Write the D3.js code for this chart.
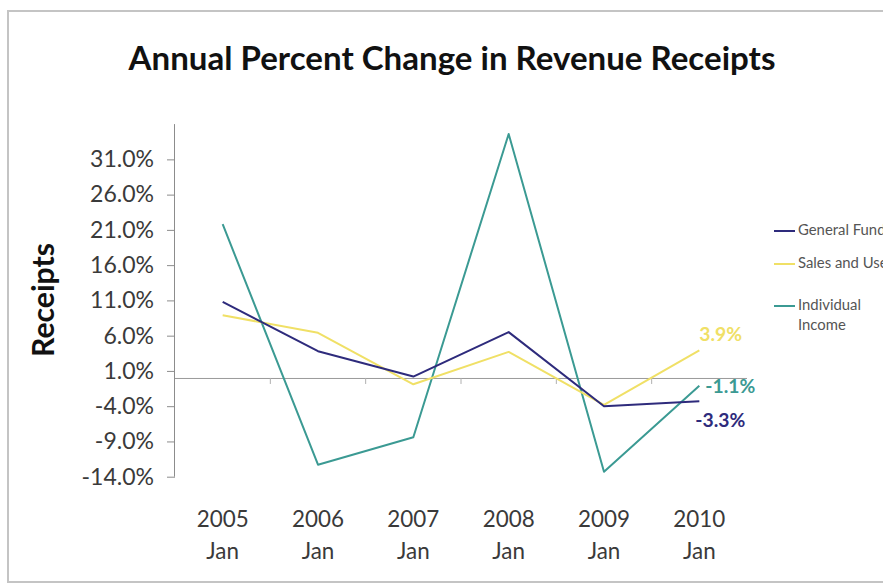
<!DOCTYPE html>
<html><head><meta charset="utf-8">
<script src="https://cdn.jsdelivr.net/npm/d3@7"></script>
<style>body{margin:0;background:#fff}svg{display:block}</style>
</head><body>
<script>
const categories = ["2005","2006","2007","2008","2009","2010"];
const subLabels = ["Jan","Jan","Jan","Jan","Jan","Jan"];
const generalFund = [10.8, 3.8, 0.2, 6.5, -4.0, -3.3];
const salesAndUse = [8.9, 6.4, -0.9, 3.7, -3.8, 3.9];
const individualIncome = [21.8, -12.3, -8.4, 34.6, -13.3, -1.1];
const seriesNames = ["General Fund", "Sales and Use", "Individual Income"];
const yTicks = [-14, -9, -4, 1, 6, 11, 16, 21, 26, 31];

const W = 883, H = 585;
const svg = d3.select("body").append("svg").attr("width", W).attr("height", H);
svg.append("rect").attr("x",0).attr("y",0).attr("width",W).attr("height",H).attr("fill","#fff");
svg.append("rect").attr("x",8).attr("y",11).attr("width",W+20).attr("height",571)
  .attr("fill","none").attr("stroke","#c4c4c4").attr("stroke-width",2);

const font = "Lato, 'Open Sans', sans-serif";

function fitSize(text, weight, target) {
  const t = svg.append("text").attr("font-family",font).attr("font-weight",weight)
    .attr("font-size",20).text(text);
  const w = t.node().getComputedTextLength();
  t.remove();
  return 20 * target / w;
}

// title
svg.append("text").attr("x",452).attr("y",70).attr("text-anchor","middle")
  .attr("font-family",font).attr("font-weight","bold")
  .attr("font-size",fitSize("Annual Percent Change in Revenue Receipts","bold",647)).attr("fill","#111")
  .text("Annual Percent Change in Revenue Receipts");

const x = d3.scaleBand().domain(categories).range([175, 747]);
const y = d3.scaleLinear().domain([-14, 36]).range([476.7, 124.1]);
const cx = c => x(c) + x.bandwidth()/2;

// y axis
const ySize = Math.min(24, fitSize("31.0%","normal",64));
const yAxis = d3.axisLeft(y).tickValues(yTicks).tickFormat(d => d.toFixed(1) + "%").tickSize(8).tickPadding(13);
const gy = svg.append("g").attr("transform","translate(175,0)").call(yAxis);
gy.select(".domain").attr("stroke","#8c8c8c").attr("d", `M-0.5,${y(36)}V${y(-14)}`);
gy.selectAll(".tick line").attr("stroke","#8c8c8c");
gy.selectAll(".tick text").attr("font-family",font).attr("font-size",ySize).attr("fill","#3a3a3a");

// x axis at zero
const xAxis = d3.axisBottom(x).tickSize(0).tickFormat("");
const gx = svg.append("g").attr("transform",`translate(0,${y(0)})`).call(xAxis);
gx.select(".domain").attr("stroke","#9a9a9a").attr("d","M175,0.5H747");
gx.selectAll(".tick").remove();
const bounds = categories.slice(1).map(c => x(c));
svg.append("g").selectAll("line").data(bounds).join("line")
  .attr("x1",d=>d).attr("x2",d=>d).attr("y1",y(0)).attr("y2",y(0)+6)
  .attr("stroke","#b0b0b0");

// x labels
const xSize = Math.min(23, fitSize("2005","normal",52));
const xl = svg.append("g");
xl.selectAll("text.yr").data(categories).join("text").attr("class","yr")
  .attr("x",d=>cx(d)).attr("y",521).attr("dominant-baseline","middle").attr("text-anchor","middle")
  .attr("font-family",font).attr("font-size",xSize).attr("fill","#3a3a3a").text(d=>d);
xl.selectAll("text.mo").data(categories).join("text").attr("class","mo")
  .attr("x",d=>cx(d)).attr("y",553).attr("dominant-baseline","middle").attr("text-anchor","middle")
  .attr("font-family",font).attr("font-size",xSize).attr("fill","#3a3a3a").text((d,i)=>subLabels[i]);

// y title
svg.append("text").attr("transform","translate(46,300) rotate(-90)").attr("text-anchor","middle")
  .attr("dominant-baseline","middle")
  .attr("font-family",font).attr("font-weight","bold").attr("font-size",fitSize("Receipts","bold",114))
  .attr("fill","#111").text("Receipts");

const colors = ["#2e2b7c", "#f0e066", "#3b9a93"];
const series = [generalFund, salesAndUse, individualIncome];
const line = d3.line().x((d,i)=>cx(categories[i])).y(d=>y(d));
[2,1,0].forEach(k => {
  svg.append("path").datum(series[k]).attr("d",line).attr("fill","none")
    .attr("stroke",colors[k]).attr("stroke-width",2).attr("stroke-linejoin","round");
});

// end labels
const last = categories.length - 1;
const labSize = fitSize("-3.3%","bold",50);
const labelOffsets = [[-4, 21], [0, -14], [6, 2]];
series.forEach((s,k) => {
  const v = s[last];
  svg.append("text").attr("x", cx(categories[last]) + labelOffsets[k][0]).attr("y", y(v) + labelOffsets[k][1])
    .attr("dominant-baseline","middle").attr("font-family",font).attr("font-weight","bold")
    .attr("font-size",labSize).attr("fill",colors[k]).text(v.toFixed(1) + "%");
});

// legend
const legSize = fitSize("Individual","normal",63);
const lg = svg.append("g");
const legY = [[231],[264],[306,326]];
const legText = [["General Fund"],["Sales and Use"],["Individual","Income"]];
legY.forEach((ys,k) => {
  lg.append("line").attr("x1",774).attr("x2",795).attr("y1",ys[0]).attr("y2",ys[0])
    .attr("stroke",colors[k]).attr("stroke-width",2);
  legText[k].forEach((t,j) => {
    lg.append("text").attr("x",798).attr("y",ys[j]).attr("dominant-baseline","middle")
      .attr("font-family",font).attr("font-size",legSize).attr("fill","#555").text(t);
  });
});
</script>
</body></html>
